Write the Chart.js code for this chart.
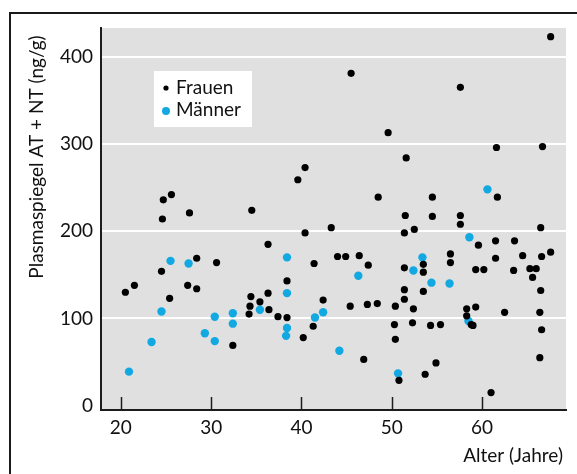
<!DOCTYPE html>
<html>
<head>
<meta charset="utf-8">
<script src="https://cdn.jsdelivr.net/npm/chart.js@4.4.1/dist/chart.umd.min.js"></script>
<style>
  html, body { margin: 0; padding: 0; background: #ffffff; }
  #wrap { position: relative; width: 577px; height: 474px; }
</style>
</head>
<body>
<div id="wrap"><canvas id="c" width="577" height="474"></canvas></div>
<script>
// ---- Data ----
const seriesNames = ["Frauen", "Männer"];

const frauenAge = [20.5,21.5,24.7,24.6,25.6,24.5,25.4,27.6,27.4,28.4,28.4,30.6,32.4,34.5,34.4,34.3,34.2,35.4,36.3,36.3,36.4,37.4,38.4,38.4,39.6,40.4,40.4,40.2,41.4,41.3,42.4,43.3,44.0,44.9,45.5,45.4,46.4,47.4,46.9,47.3,48.5,48.4,49.6,50.4,50.3,50.4,50.8,51.6,51.5,51.4,51.4,51.4,51.4,52.5,52.4,52.3,53.5,53.5,53.5,53.7,54.5,54.5,54.3,54.9,55.4,56.5,56.5,57.6,57.6,57.6,58.3,58.3,58.8,59.0,59.6,59.3,59.3,60.2,61.0,61.6,61.7,61.5,61.5,62.5,63.6,63.5,64.5,65.3,66.0,65.6,66.7,66.5,66.6,66.5,66.4,66.6,66.4,67.6,67.6];
const frauenLevel = [130,138,236,214,242,154,123,221,138,169,134,164,69,224,125,114,105,119,185,129,110,102,143,101,259,273,198,78,163,91,121,204,171,171,381,114,172,161,53,116,239,117,313,114,93,76,29,284,218,198,158,133,122,202,111,95,162,153,131,36,239,217,92,49,93,174,164,365,218,208,111,103,93,92,184,156,113,156,15,296,239,189,169,107,189,155,172,157,157,147,297,204,171,132,107,87,55,423,176];

const maennerAge = [20.9,23.4,24.5,25.5,27.5,29.3,30.4,30.4,32.4,32.4,35.4,38.4,38.4,38.4,38.3,41.5,42.4,44.2,46.3,50.7,52.4,53.4,54.4,56.4,58.5,58.6,60.6];
const maennerLevel = [39,73,108,166,163,83,102,74,106,94,110,170,129,89,80,101,107,63,149,37,155,170,141,140,97,193,248];

const xTickValues = [20, 30, 40, 50, 60];
const yTickValues = [0, 100, 200, 300, 400];
const xTitle = "Alter (Jahre)";
const yTitle = "Plasmaspiegel AT + NT (ng/g)";

// ---- Styling ----
const FONT = "Lato, 'Liberation Sans', sans-serif";
const BLACK = "#000000";
const BLUE = "#12a8e2";
const AXIS = "#1c1c1c";

const toPoints = (xs, ys) => xs.map((x, i) => ({ x: x, y: ys[i] }));

const plotBg = {
  id: 'plotBg',
  beforeDraw(chart) {
    const { ctx, chartArea: a } = chart;
    ctx.save();
    ctx.fillStyle = '#e0e0e0';
    ctx.fillRect(a.left, a.top, a.right - a.left, a.bottom - a.top);
    ctx.restore();
  }
};

const decorations = {
  id: 'decorations',
  afterDatasetsDraw(chart) {
    const { ctx, chartArea: a, scales } = chart;
    ctx.save();
    // inward x ticks
    ctx.strokeStyle = AXIS;
    ctx.lineWidth = 1.5;
    xTickValues.forEach(v => {
      const px = Math.round(scales.x.getPixelForValue(v)) + 0.5;
      ctx.beginPath();
      ctx.moveTo(px, a.bottom);
      ctx.lineTo(px, a.bottom - 13);
      ctx.stroke();
    });
    ctx.restore();
  },
  afterDraw(chart) {
    const { ctx, chartArea: a } = chart;
    ctx.save();
    // outer frame (top and left)
    ctx.strokeStyle = '#1a1a1a';
    ctx.lineWidth = 2;
    ctx.beginPath();
    ctx.moveTo(10, 474);
    ctx.lineTo(10, 13);
    ctx.lineTo(577, 13);
    ctx.stroke();

    // axis titles
    ctx.fillStyle = '#111';
    ctx.font = "19px " + FONT;
    ctx.textAlign = 'right';
    ctx.textBaseline = 'middle';
    ctx.fillText(xTitle, a.right - 3, 456);

    ctx.save();
    ctx.translate(37, 157);
    ctx.rotate(-Math.PI / 2);
    ctx.textAlign = 'center';
    ctx.fillText(yTitle, 0, 0);
    ctx.restore();

    // legend box
    ctx.fillStyle = '#ffffff';
    ctx.fillRect(154, 71, 98, 56);
    ctx.fillStyle = BLACK;
    ctx.beginPath(); ctx.arc(166, 88, 2.6, 0, Math.PI * 2); ctx.fill();
    ctx.fillStyle = BLUE;
    ctx.beginPath(); ctx.arc(166, 111, 4, 0, Math.PI * 2); ctx.fill();
    ctx.fillStyle = '#111';
    ctx.textAlign = 'left';
    ctx.textBaseline = 'middle';
    ctx.fillText(seriesNames[0], 176, 88);
    ctx.fillText(seriesNames[1], 176, 110);
    ctx.restore();
  }
};

new Chart(document.getElementById('c'), {
  type: 'scatter',
  data: {
    datasets: [
      {
        label: seriesNames[0],
        data: toPoints(frauenAge, frauenLevel),
        backgroundColor: BLACK,
        borderWidth: 0,
        pointRadius: 3.6,
        pointHoverRadius: 3.6
      },
      {
        label: seriesNames[1],
        data: toPoints(maennerAge, maennerLevel),
        backgroundColor: BLUE,
        borderWidth: 0,
        pointRadius: 4.2,
        pointHoverRadius: 4.2
      }
    ]
  },
  options: {
    responsive: false,
    animation: false,
    devicePixelRatio: 1,
    layout: { padding: { left: 0, top: 28, right: 11, bottom: 0 } },
    plugins: {
      legend: { display: false },
      tooltip: { enabled: false },
      title: { display: false }
    },
    scales: {
      x: {
        type: 'linear',
        min: 17.8,
        max: 69.3,
        afterBuildTicks(scale) { scale.ticks = xTickValues.map(v => ({ value: v })); },
        afterFit(scale) { scale.height = 64; },
        grid: { display: false, drawTicks: false },
        border: { display: true, color: AXIS, width: 2 },
        ticks: {
          padding: 6,
          color: '#111',
          font: { family: FONT, size: 19 },
          callback: v => String(v)
        }
      },
      y: {
        type: 'linear',
        min: -5,
        max: 433,
        afterBuildTicks(scale) { scale.ticks = yTickValues.map(v => ({ value: v })); },
        afterFit(scale) { scale.width = 101; },
        grid: {
          drawTicks: false,
          color: ctx => (ctx.tick && ctx.tick.value === 0) ? 'rgba(0,0,0,0)' : '#ffffff',
          lineWidth: 2
        },
        border: { display: true, color: AXIS, width: 2 },
        ticks: {
          padding: 8,
          color: '#111',
          font: { family: FONT, size: 19 },
          callback: v => String(v)
        }
      }
    }
  },
  plugins: [plotBg, decorations]
});
</script>
</body>
</html>
